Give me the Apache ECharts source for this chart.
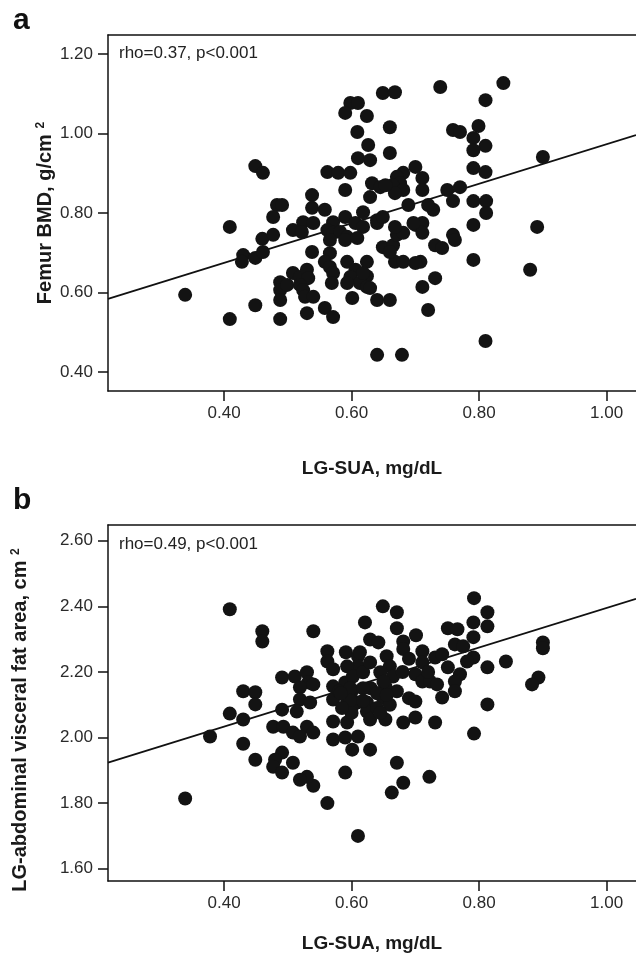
<!DOCTYPE html>
<html><head><meta charset="utf-8">
<script src="https://cdn.jsdelivr.net/npm/echarts@6/dist/echarts.min.js"></script>
<style>html,body{margin:0;padding:0;background:#fff}#c{width:636px;height:958px}</style>
</head><body><div id="c"></div>
<script>
// ---- data ----
const xTicks = [0.40, 0.60, 0.80, 1.00];
const yTicksA = [0.40, 0.60, 0.80, 1.00, 1.20];
const yTicksB = [1.60, 1.80, 2.00, 2.20, 2.40, 2.60];
const xRange = [0.218, 1.046];
const yRangeA = [0.352, 1.248];
const yRangeB = [1.5625, 2.648];
const fitA = [0.4755, 0.4976]; // intercept, slope
const fitB = [1.792, 0.603];
const statA = 'rho=0.37, p<0.001';
const statB = 'rho=0.49, p<0.001';

const lgSuaA = [0.598,0.610,0.590,0.624,0.609,0.626,0.449,0.461,0.610,0.629,0.562,0.579,0.598,0.590,0.538,0.483,0.491,0.477,0.538,0.558,0.524,0.540,0.571,0.590,0.606,0.618,0.508,0.409,0.460,0.477,0.430,0.428,0.449,0.461,0.522,0.562,0.571,0.582,0.593,0.566,0.590,0.609,0.538,0.566,0.558,0.566,0.571,0.593,0.606,0.598,0.624,0.624,0.613,0.508,0.519,0.530,0.532,0.488,0.488,0.488,0.499,0.519,0.524,0.527,0.540,0.569,0.593,0.601,0.624,0.339,0.449,0.409,0.488,0.530,0.558,0.571,0.640,0.679,0.810,0.880,0.891,0.791,0.791,0.759,0.762,0.731,0.742,0.711,0.731,0.720,0.708,0.700,0.668,0.681,0.618,0.629,0.640,0.660,0.649,0.665,0.671,0.681,0.660,0.700,0.711,0.711,0.640,0.838,0.739,0.810,0.649,0.668,0.660,0.660,0.759,0.770,0.799,0.791,0.810,0.791,0.791,0.810,0.900,0.700,0.681,0.671,0.676,0.664,0.681,0.668,0.711,0.711,0.750,0.770,0.759,0.791,0.811,0.811,0.728,0.720,0.689,0.632,0.629,0.645,0.653,0.618,0.640,0.649,0.697,0.668];
const femurBmd = [1.077,1.077,1.052,1.044,1.004,0.971,0.918,0.901,0.938,0.933,0.903,0.901,0.901,0.858,0.845,0.820,0.820,0.790,0.813,0.808,0.777,0.775,0.777,0.790,0.775,0.765,0.757,0.765,0.735,0.745,0.694,0.677,0.687,0.702,0.752,0.757,0.750,0.752,0.740,0.732,0.732,0.737,0.702,0.699,0.677,0.664,0.649,0.677,0.657,0.639,0.677,0.641,0.624,0.649,0.639,0.657,0.636,0.626,0.606,0.581,0.619,0.619,0.606,0.589,0.589,0.624,0.624,0.586,0.614,0.594,0.568,0.533,0.533,0.548,0.561,0.538,0.443,0.443,0.478,0.657,0.765,0.682,0.770,0.745,0.732,0.719,0.712,0.614,0.636,0.556,0.677,0.674,0.677,0.677,0.649,0.611,0.581,0.581,0.714,0.719,0.745,0.750,0.702,0.770,0.775,0.750,0.775,1.127,1.117,1.084,1.102,1.104,1.016,0.951,1.009,1.004,1.019,0.989,0.969,0.958,0.913,0.903,0.941,0.916,0.901,0.891,0.875,0.870,0.858,0.850,0.888,0.858,0.858,0.865,0.830,0.830,0.830,0.800,0.808,0.820,0.820,0.875,0.840,0.865,0.870,0.802,0.782,0.790,0.775,0.765];

const lgSuaB = [0.409,0.460,0.460,0.540,0.621,0.629,0.562,0.562,0.591,0.610,0.610,0.491,0.511,0.530,0.532,0.519,0.540,0.571,0.593,0.571,0.590,0.602,0.618,0.430,0.449,0.449,0.409,0.430,0.491,0.519,0.535,0.514,0.571,0.593,0.609,0.624,0.477,0.493,0.571,0.593,0.530,0.792,0.813,0.649,0.671,0.671,0.642,0.681,0.681,0.701,0.751,0.766,0.791,0.813,0.791,0.762,0.775,0.900,0.900,0.893,0.883,0.842,0.813,0.791,0.781,0.731,0.742,0.711,0.711,0.751,0.770,0.762,0.700,0.711,0.723,0.734,0.742,0.762,0.813,0.671,0.653,0.649,0.624,0.629,0.653,0.681,0.700,0.731,0.792,0.613,0.629,0.655,0.660,0.645,0.665,0.378,0.430,0.449,0.339,0.610,0.562,0.590,0.540,0.530,0.519,0.508,0.491,0.480,0.477,0.491,0.508,0.519,0.540,0.571,0.590,0.610,0.601,0.629,0.671,0.681,0.663,0.722,0.580,0.600,0.630,0.650,0.680,0.690,0.700,0.640,0.660,0.600,0.690,0.720,0.598,0.618,0.598,0.618,0.583,0.640,0.655,0.600,0.585,0.645];
const visceralFat = [2.391,2.324,2.293,2.324,2.351,2.299,2.263,2.232,2.260,2.248,2.217,2.183,2.186,2.199,2.168,2.153,2.162,2.208,2.217,2.156,2.168,2.186,2.199,2.141,2.138,2.101,2.073,2.055,2.085,2.116,2.107,2.079,2.116,2.116,2.107,2.107,2.033,2.033,2.049,2.046,2.033,2.425,2.382,2.400,2.382,2.333,2.290,2.293,2.270,2.312,2.333,2.330,2.351,2.339,2.306,2.284,2.278,2.290,2.272,2.183,2.162,2.232,2.214,2.244,2.232,2.244,2.254,2.263,2.229,2.214,2.193,2.171,2.193,2.171,2.171,2.162,2.122,2.141,2.101,2.141,2.156,2.122,2.079,2.055,2.055,2.046,2.061,2.046,2.012,2.260,2.229,2.248,2.217,2.199,2.186,2.003,1.981,1.932,1.814,1.700,1.800,1.893,1.853,1.880,1.871,1.923,1.954,1.932,1.911,1.893,2.015,2.003,2.015,1.994,2.000,2.003,1.963,1.963,1.923,1.862,1.832,1.880,2.140,2.140,2.150,2.170,2.200,2.120,2.110,2.090,2.100,2.090,2.240,2.200,2.150,2.150,2.112,2.112,2.135,2.135,2.130,2.075,2.090,2.075];

// ---- build ----
const FONT = 'Liberation Sans, Arial, sans-serif';
const pairs = (xs, ys) => xs.map((x, i) => [x, ys[i]]);
const fitLine = (f) => [[xRange[0], f[0] + f[1] * xRange[0]], [xRange[1], f[0] + f[1] * xRange[1]]];
const fmt = v => v.toFixed(2);
const axisLineStyle = { color: '#111', width: 1.5 };

function xAxes(gi, nameGap) {
  return [{
    type: 'value', gridIndex: gi, min: xRange[0], max: xRange[1], position: 'bottom',
    axisLine: { show: true, onZero: false, lineStyle: axisLineStyle },
    axisTick: { show: true, inside: false, length: 10, lineStyle: axisLineStyle, customValues: xTicks },
    axisLabel: { customValues: xTicks, formatter: fmt, fontSize: 17, fontFamily: FONT, color: '#2a2a2a', margin: 14 },
    splitLine: { show: false },
    name: 'LG-SUA, mg/dL', nameLocation: 'middle', nameGap: nameGap,
    nameTextStyle: { fontSize: 19, fontWeight: 'bold', fontFamily: FONT, color: '#1a1a1a' }
  }, {
    type: 'value', gridIndex: gi, min: xRange[0], max: xRange[1], position: 'top',
    axisLine: { show: true, onZero: false, lineStyle: axisLineStyle },
    axisTick: { show: false }, axisLabel: { show: false }, splitLine: { show: false }
  }];
}
function yAxis(gi, range, ticks, name, nameGap, fs, pad) {
  return {
    type: 'value', gridIndex: gi, min: range[0], max: range[1],
    axisLine: { show: true, onZero: false, lineStyle: axisLineStyle },
    axisTick: { show: true, inside: false, length: 10, lineStyle: axisLineStyle, customValues: ticks },
    axisLabel: { customValues: ticks, formatter: fmt, fontSize: 17, fontFamily: FONT, color: '#2a2a2a', margin: 15 },
    splitLine: { show: false },
    name: name, nameLocation: 'middle', nameGap: nameGap, nameRotate: 90, nameMoveOverlap: false,
    nameTextStyle: { fontSize: fs, fontWeight: 'bold', fontFamily: FONT, color: '#1a1a1a', padding: pad,
      rich: { s: { fontSize: 12, fontWeight: 'bold', fontFamily: FONT, color: '#1a1a1a', verticalAlign: 'top', padding: [0, 0, 9, 0] } } }
  };
}
const dotStyle = { color: '#131313', opacity: 1 };
const lineSty = { color: '#111', width: 1.8 };

const option = {
  animation: false,
  backgroundColor: '#fff',
  grid: [
    { left: 108, top: 35, right: 0, height: 356 },
    { left: 108, top: 525, right: 0, height: 356 }
  ],
  xAxis: [...xAxes(0, 68), ...xAxes(1, 53)],
  yAxis: [
    yAxis(0, yRangeA, yTicksA, 'Femur BMD, g/cm {s|2}', 52, 20, [0, 0, 0, 0]),
    yAxis(1, yRangeB, yTicksB, 'LG-abdominal visceral fat area, cm {s|2}', 77, 20, [0, 34, 0, 0])
  ],
  series: [
    { type: 'scatter', xAxisIndex: 0, yAxisIndex: 0, data: pairs(lgSuaA, femurBmd), symbolSize: 14, itemStyle: dotStyle, z: 3 },
    { type: 'line', xAxisIndex: 0, yAxisIndex: 0, data: fitLine(fitA), showSymbol: false, symbol: 'none', lineStyle: lineSty, clip: true, z: 2 },
    { type: 'scatter', xAxisIndex: 2, yAxisIndex: 1, data: pairs(lgSuaB, visceralFat), symbolSize: 14, itemStyle: dotStyle, z: 3 },
    { type: 'line', xAxisIndex: 2, yAxisIndex: 1, data: fitLine(fitB), showSymbol: false, symbol: 'none', lineStyle: lineSty, clip: true, z: 2 }
  ],
  graphic: [
    { type: 'text', left: 13, top: 6, style: { text: 'a', font: 'bold 30px ' + FONT, fill: '#111' } },
    { type: 'text', left: 13, top: 486, style: { text: 'b', font: 'bold 30px ' + FONT, fill: '#111' } },
    { type: 'text', left: 119, top: 45, style: { text: statA, font: '17px ' + FONT, fill: '#222' } },
    { type: 'text', left: 119, top: 536, style: { text: statB, font: '17px ' + FONT, fill: '#222' } }
  ]
};
const chart = echarts.init(document.getElementById('c'), null, { renderer: 'canvas' });
chart.setOption(option);
</script>
</body></html>
